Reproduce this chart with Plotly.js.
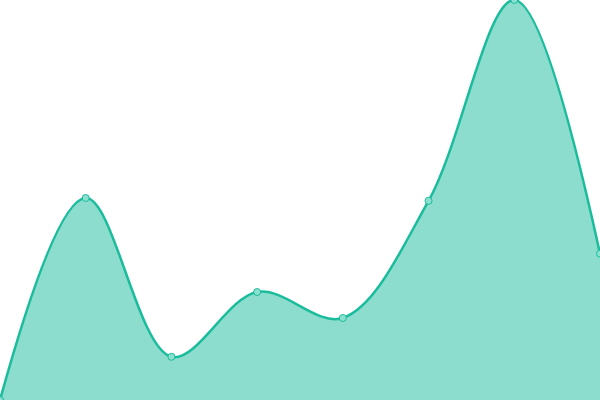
<!DOCTYPE html>
<html>
<head>
<meta charset="utf-8">
<script src="https://cdn.plot.ly/plotly-3.0.1.min.js"></script>
<style>
  html, body { margin: 0; padding: 0; background: #fff; }
  #chart { width: 600px; height: 400px; }
</style>
</head>
<body>
<div id="chart"></div>
<script>
// Dados
const xVals = [0, 1, 2, 3, 4, 5, 6, 7];
const yVals = [0, 50.5, 10.8, 27, 20.5, 49.8, 100, 36.6];

var area = {
    x: xVals,
    y: yVals,
    type: 'scatter',
    mode: 'lines+markers',
    fill: 'tozeroy',
    fillcolor: 'rgba(26,188,156,0.5)',
    line: {color: '#1abc9c', width: 2.5, shape: 'spline', smoothing: 1},
    marker: {size: 7, color: '#8be0cf', line: {color: '#1abc9c', width: 1}},
    hoverinfo: 'none'
};

var layout = {
    width: 600,
    height: 400,
    margin: {l: 0, r: 0, t: 0, b: 0},
    showlegend: false,
    paper_bgcolor: '#fff',
    plot_bgcolor: '#fff',
    xaxis: {range: [0, 7], visible: false, fixedrange: true},
    yaxis: {range: [0, 100], visible: false, fixedrange: true}
};

Plotly.newPlot('chart', [area], layout, {displayModeBar: false, staticPlot: true});
</script>
</body>
</html>
